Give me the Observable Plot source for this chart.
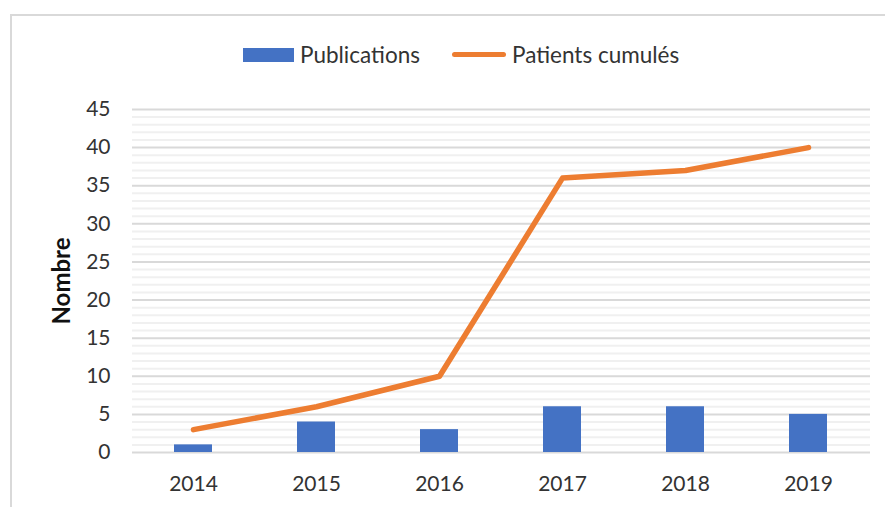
<!DOCTYPE html>
<html>
<head>
<meta charset="utf-8">
<script src="https://cdn.jsdelivr.net/npm/d3@7"></script>
<script src="https://cdn.jsdelivr.net/npm/@observablehq/plot@0.6"></script>
<style>
  html, body { margin: 0; padding: 0; background: #fff; }
  #wrap { position: relative; width: 885px; height: 507px; overflow: hidden; font-family: Lato, "Open Sans", sans-serif; }
  #frame { position: absolute; left: 10px; top: 14px; width: 900px; height: 520px; border-top: 2px solid #d9d9d9; border-left: 2px solid #d9d9d9; box-sizing: border-box; }
  #legend { position: absolute; top: 41px; left: 0; width: 885px; height: 28px; font-size: 22.5px; color: #333; }
  .sw-bar { position: absolute; left: 243px; top: 7px; width: 51px; height: 14px; background: #4472C4; }
  .sw-line { position: absolute; left: 452px; top: 11px; width: 54px; height: 5px; border-radius: 3px; background: #ED7D31; }
  .lt { position: absolute; top: 0; line-height: 28px; }
  #chart { position: absolute; left: 0; top: 0; }
</style>
</head>
<body>
<div id="wrap">
  <div id="frame"></div>
  <div id="chart"></div>
  <div id="legend">
    <div class="sw-bar"></div><div class="lt" id="l1" style="left:300px"></div>
    <div class="sw-line"></div><div class="lt" id="l2" style="left:512px"></div>
  </div>
</div>
<script>
const years = ["2014", "2015", "2016", "2017", "2018", "2019"];
const publications = [1, 4, 3, 6, 6, 5];
const patientsCumules = [3, 6, 10, 36, 37, 40];
const yMajorTicks = [0, 5, 10, 15, 20, 25, 30, 35, 40, 45];
const yMinorTicks = d3.range(0, 46, 1).filter(v => v % 5 !== 0);
const seriesNames = ["Publications", "Patients cumulés"];
const yLabel = "Nombre";

document.getElementById("l1").textContent = seriesNames[0];
document.getElementById("l2").textContent = seriesNames[1];

const rows = years.map((y, i) => ({year: y, pub: publications[i], pat: patientsCumules[i]}));

const chart = Plot.plot({
  width: 885,
  height: 507,
  marginTop: 109,
  marginBottom: 55,
  marginLeft: 132,
  marginRight: 15,
  style: {fontFamily: "Lato, 'Open Sans', sans-serif", fontSize: "21px", color: "#333", background: "transparent"},
  x: {domain: years, paddingInner: 0.69, paddingOuter: 0.345, label: null},
  y: {domain: [0, 45], ticks: yMajorTicks, label: null},
  marks: [
    Plot.ruleY(yMinorTicks, {stroke: "#f0f0f0", strokeWidth: 2}),
    Plot.ruleY(yMajorTicks, {stroke: "#d9d9d9", strokeWidth: 2}),
    Plot.barY(rows, {x: "year", y: "pub", fill: "#4472C4"}),
    Plot.lineY(rows, {x: "year", y: "pat", stroke: "#ED7D31", strokeWidth: 5.5, strokeLinecap: "round", strokeLinejoin: "round"}),
    Plot.axisX({tickSize: 0, tickPadding: 24, fontSize: 21}),
    Plot.axisY({ticks: yMajorTicks, tickSize: 0, tickPadding: 22, fontSize: 21}),
    Plot.text([yLabel], {frameAnchor: "left", textAnchor: "middle", dx: -70, rotate: -90, fontSize: 24, fontWeight: "bold", fill: "#111"})
  ]
});
document.getElementById("chart").appendChild(chart);
</script>
</body>
</html>
